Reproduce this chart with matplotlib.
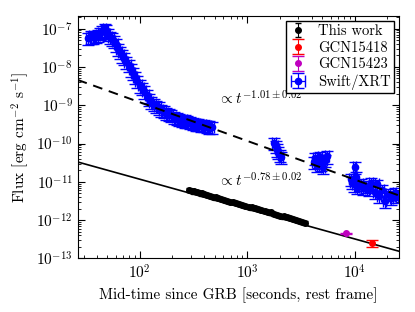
import numpy as np
import matplotlib
matplotlib.use('Agg')
import matplotlib.pyplot as plt

plt.rcParams['font.family'] = 'serif'
plt.rcParams['font.serif'] = ['cmr10']
plt.rcParams['mathtext.fontset'] = 'cm'
plt.rcParams['axes.formatter.use_mathtext'] = True
plt.rcParams['xtick.direction'] = 'in'
plt.rcParams['ytick.direction'] = 'in'
plt.rcParams['xtick.top'] = True
plt.rcParams['ytick.right'] = True

# Swift/XRT light curve
xrt_t = [33, 35, 37, 39, 41, 43, 45, 47, 49, 51, 53, 55, 57, 60, 63, 66, 69, 72,
         75, 79, 83, 87, 91, 95, 100, 105, 110, 116, 122, 128, 135, 142, 150, 158,
         167, 176, 186, 197, 208, 220, 233, 247, 262, 278, 295, 313, 332, 352,
         373, 396, 420, 445, 472,
         1780, 1850, 1900, 1950, 2000, 2060,
         4150, 4300, 4450, 4600, 4750, 4900, 5100, 5300, 5500,
         9200, 9500, 9800, 10000, 10200, 10500, 11500, 12000, 12800, 13500, 14300,
         15500, 16200, 17000, 18000, 19000, 20500, 22000, 23500, 24500]
xrt_f = [5.8e-8, 6.3e-8, 6.0e-8, 6.6e-8, 7.0e-8, 7.6e-8, 8.5e-8, 9.6e-8, 9.0e-8,
         7.4e-8, 6.2e-8, 5.6e-8, 4.8e-8, 3.9e-8, 3.0e-8, 2.5e-8, 2.0e-8, 1.75e-8,
         1.35e-8, 1.15e-8, 8.6e-9, 7.0e-9, 5.4e-9, 4.4e-9, 3.3e-9, 2.8e-9, 2.3e-9,
         1.8e-9, 1.45e-9, 1.25e-9, 1.1e-9, 9.5e-10, 8.8e-10, 7.6e-10, 7.0e-10,
         6.4e-10, 5.8e-10, 5.5e-10, 5.0e-10, 4.7e-10, 4.4e-10, 4.2e-10, 4.0e-10,
         3.8e-10, 3.6e-10, 3.5e-10, 3.3e-10, 3.2e-10, 3.1e-10, 3.0e-10, 2.9e-10,
         2.8e-10, 2.7e-10,
         1.05e-10, 8.5e-11, 7.0e-11, 6.0e-11, 5.0e-11, 4.5e-11,
         3.3e-11, 4.2e-11, 2.8e-11, 3.6e-11, 4.5e-11, 3.0e-11, 2.5e-11, 3.8e-11, 4.6e-11,
         1.2e-11, 1.0e-11, 8.5e-12, 2.4e-11, 1.3e-11, 7.5e-12, 9.0e-12, 7.0e-12,
         8.0e-12, 6.5e-12, 9.5e-12,
         5.5e-12, 8.5e-12, 4.2e-12, 6.0e-12, 3.2e-12, 4.8e-12, 3.8e-12, 5.0e-12, 4.2e-12]

# this work
opt_t = [290, 305, 320, 340, 360, 380, 400, 425, 450, 480, 510, 540, 575, 610,
         650, 690, 740, 790, 840, 900, 960, 1030, 1100, 1180, 1260, 1350, 1450,
         1550, 1660, 1780, 1900, 2040, 2180, 2330, 2490, 2660, 2840, 3030, 3230, 3450]
opt_f = [6.0e-12, 5.8e-12, 5.6e-12, 5.4e-12, 5.2e-12, 4.95e-12, 4.7e-12, 4.5e-12,
         4.3e-12, 4.1e-12, 3.9e-12, 3.7e-12, 3.5e-12, 3.35e-12, 3.2e-12, 3.05e-12,
         2.9e-12, 2.75e-12, 2.62e-12, 2.5e-12, 2.38e-12, 2.25e-12, 2.14e-12,
         2.03e-12, 1.94e-12, 1.84e-12, 1.75e-12, 1.66e-12, 1.58e-12, 1.42e-12,
         1.36e-12, 1.3e-12, 1.24e-12, 1.18e-12, 1.12e-12, 1.06e-12, 1.0e-12,
         9.5e-13, 9.0e-13, 8.5e-13]

gcn15418_t = [14500]
gcn15418_f = [2.45e-13]
gcn15423_t = [8370]
gcn15423_f = [4.5e-13]

# power-law fits
xrt_norm, xrt_slope = 4.6e-9, -1.01
opt_norm, opt_slope = 3.3e-11, -0.78
t_ref = 26.4

fig = plt.figure(figsize=(4.15, 3.12), dpi=100)
ax = fig.add_axes([0.187, 0.172, 0.775, 0.778])

tt = np.array([26.4, 26000])
ax.plot(tt, xrt_norm * (tt / t_ref) ** xrt_slope, 'k--', lw=1.4, dashes=(5, 3.5), zorder=5)
ax.plot(tt, opt_norm * (tt / t_ref) ** opt_slope, 'k-', lw=1.2, zorder=1)

xrt_t = np.array(xrt_t, float)
xrt_f = np.array(xrt_f)
opt_f = np.array(opt_f)

ax.errorbar(opt_t, opt_f, yerr=0.12 * opt_f, fmt='o', color='k', ms=4,
            capsize=2, elinewidth=0.8, label='This work', zorder=3)
ax.errorbar(gcn15418_t, gcn15418_f, yerr=[[0.5e-13], [0.6e-13]], fmt='o', color='r',
            ms=4, capsize=4, elinewidth=0.8, label='GCN15418', zorder=3)
ax.errorbar(gcn15423_t, gcn15423_f, yerr=[[0.2e-13], [0.2e-13]], fmt='o', color='m',
            ms=4, capsize=4, elinewidth=0.8, label='GCN15423', zorder=3)
ax.errorbar(xrt_t, xrt_f, yerr=0.35 * xrt_f, xerr=0.04 * xrt_t, fmt='o', color='b',
            ms=4.5, capsize=4, elinewidth=0.9, label='Swift/XRT', zorder=2)

ax.text(530, 1.05e-9, r'$\propto t^{-1.01\pm0.02}$', fontsize=11)
ax.text(530, 7.5e-12, r'$\propto t^{-0.78\pm0.02}$', fontsize=11)

ax.set_xscale('log')
ax.set_yscale('log')
ax.set_xlim(26.4, 26000)
ax.set_ylim(1e-13, 2.2e-7)
ax.set_xlabel('Mid-time since GRB [seconds, rest frame]', fontsize=11)
ax.set_ylabel(r'Flux [erg cm$^{-2}$ s$^{-1}$]', fontsize=11)
ax.tick_params(labelsize=11, which='major', length=5)
ax.tick_params(which='minor', length=2.5)

leg = ax.legend(loc='upper right', fontsize=10.5, fancybox=False, framealpha=1,
                edgecolor='k', numpoints=1, handlelength=1.1, handletextpad=0.8,
                labelspacing=0.2, borderpad=0.25, borderaxespad=0.35)
leg.get_frame().set_linewidth(1.0)

fig.savefig('out.png', dpi=100)
